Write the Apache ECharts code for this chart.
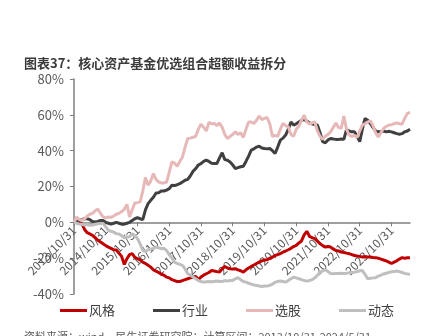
<!DOCTYPE html>
<html><head><meta charset="utf-8">
<script src="https://cdn.jsdelivr.net/npm/echarts@6/dist/echarts.min.js"></script>
<style>html,body{margin:0;padding:0;background:#fff}#c{width:438px;height:336px}</style>
</head><body><div id="c"></div>
<script>
var seriesNames = ['风格', '行业', '选股', '动态'];
var yTicks = [-40, -20, 0, 20, 40, 60, 80];
var style = [0,0.5,-0.3,-0.7,-4,-5.8,-6.5,-7.3,-8.5,-10,-11,-12,-13,-13.8,-14.5,-15.3,-15.5,-17.2,-19,-23.5,-20.3,-18,-17.5,-19.5,-20.3,-21,-22.2,-23,-24,-25,-26.5,-27.2,-28,-29,-29.5,-30.6,-31,-32,-32.5,-33,-33,-32.5,-32,-31.5,-31,-30.5,-30.2,-32,-30.5,-29.5,-28.7,-28,-26.9,-27.2,-27.5,-27.8,-26,-24.6,-25.5,-25.9,-26,-25.9,-26.5,-27,-27.8,-26.5,-25.5,-24.6,-23.8,-23,-22.2,-21.5,-21,-20.9,-20,-19.5,-18.5,-18,-17.5,-16.6,-16,-15.3,-14.5,-13.5,-12.9,-11.5,-10.4,-7,-5,-7.8,-8.5,-9.1,-10.5,-11.9,-13,-13.8,-13.5,-13.8,-15,-15.7,-16,-16.6,-16.8,-17.2,-17.5,-18,-18.5,-18.8,-19,-19.4,-19.2,-19.4,-19.4,-19.6,-19.7,-20,-20.5,-21,-21.5,-22.2,-23,-22.2,-21.5,-20.5,-19.7,-20,-19.8,-19.7];
var industry = [0,0.5,1,1.5,2,2,1.5,0.5,0.2,0.5,1,1,0,-0.5,-1,-0.5,0,-0.5,-1,-1,-0.5,0,1,2,2.6,2,1.5,7,10.4,12.3,14,16.4,16.5,17.5,17.5,18,18.8,20.7,20.5,21,21.6,22.5,23.5,24,26,28.5,30,32,32.8,34,34.7,34,33,32.8,32.8,36,38.8,35,34.7,33.7,32,30,30.5,31,31.3,34,37,40.3,41,42,42.5,41.5,41.2,41,41.2,40,38.4,42,45.9,47,48.7,52,56,54.3,55,56,57,57.4,56.5,55.5,55,54.5,54.3,50,45,44.4,46,46.8,46.5,46.3,46.3,46.5,46.3,51.8,51,50.5,50.5,48,45,52,58,57,55.2,53,51,50.5,50.5,51,50.5,50.8,50.5,50,49.5,49.2,49.5,50.5,51,52];
var stock = [0,3,1.5,1,2,3.5,4.5,5,6.5,7.5,5,3,2.5,3,2.8,3.5,4.5,5,6,7.3,10,3,7,10.8,11,11.4,17.5,25,20.7,23,27.2,24,22.5,22,22,22.5,28,33.7,33,31.3,34,36.5,42,46.8,47,47.5,48,52,54.8,53,51,55.8,55,55.2,54,55.5,53,49,46.8,48,49,50.5,49,50,47.4,52,56,56,55.2,57,59.3,57.4,58,58.5,55,48,48.5,48,52,55.2,54,53.3,49,48,52,53.7,57,59.8,56,54.8,55.5,56,51,48,46.3,48,49,50.5,53,55.5,53,52.4,59.3,52,48.7,48,48.5,47.4,51,54.3,55,56,56.7,54,50,47.7,50,52.4,53.5,54.3,54.5,55,55.5,55,54.8,58,60.8,61.4];
var dynamic = [0,-0.5,-1,-1.1,-1.5,-1.2,-1.7,-1.5,-1.1,-0.8,-0.7,-0.6,-2.5,-4.5,-5,-5.5,-6.3,-6.5,-7.5,-8.6,-8.2,-8,-6.3,-7.5,-9.1,-12,-15.7,-16.2,-15.3,-15,-14.5,-13.8,-14.2,-14.7,-14.5,-15.7,-18,-20,-22.2,-23,-23.5,-24,-26,-28.7,-29.5,-30.5,-31.5,-32.5,-33,-33.4,-33.2,-33,-33.2,-33,-32.8,-33,-33,-32.5,-32.8,-32.4,-32.4,-31.5,-30.9,-32,-33,-33.4,-34,-34.5,-35,-35.2,-35.5,-35.8,-35.5,-35.5,-35.2,-34.5,-33.5,-33,-32.8,-33,-33.4,-32.5,-31.5,-30.6,-31,-31.5,-32,-32.5,-32.8,-32.5,-32,-31,-29.5,-27.8,-27,-26.5,-27.5,-28.5,-28.7,-28.5,-28.5,-28.4,-28.5,-28.4,-28.2,-28,-27.8,-27.5,-27,-26.9,-29,-31.5,-31.2,-31,-30.9,-30,-29.5,-28.8,-28.4,-28,-27.6,-27.5,-27.2,-27.5,-28,-28.5,-28.8,-29];

// month-end category labels from 2013/10/31 to 2024/5/31
var categories = [];
(function(){
  var y = 2013, m = 10;
  while (y < 2024 || (y === 2024 && m <= 5)) {
    var d = new Date(y, m, 0).getDate();
    categories.push(y + '/' + m + '/' + d);
    m++; if (m > 12) { m = 1; y++; }
  }
})();

var colors = ['#c00000', '#404040', '#e6b9b8', '#bfbfbf'];
var font = '"Noto Sans CJK SC", "Noto Sans", sans-serif';
var chart = echarts.init(document.getElementById('c'), null, {renderer: 'canvas'});
var dataSets = [style, industry, stock, dynamic];
var gridTop = 79, gridBottom = 42, H = 336;
var plotH = H - gridTop - gridBottom;
var yMin = -40, yMax = 80;
// move category axis up to the zero line
var zeroOffset = -plotH * (0 - yMin) / (yMax - yMin);
chart.setOption({
  animation: false,
  textStyle: {fontFamily: font},
  title: [{
    text: '图表37：核心资产基金优选组合超额收益拆分',
    left: 19, top: 52,
    textStyle: {fontSize: 13, fontWeight: 'bold', color: '#3b3b3b', fontFamily: font}
  }, {
    text: '资料来源：wind，民生证券研究院；计算区间：2013/10/31-2024/5/31',
    left: 19, top: 326,
    textStyle: {fontSize: 11, fontWeight: 'normal', color: '#595959', fontFamily: font}
  }],
  legend: {
    bottom: 14, left: 55,
    itemWidth: 27, itemHeight: 3, itemGap: 38,
    icon: 'rect',
    textStyle: {fontSize: 13, color: '#404040', padding: [0,0,0,-3]},
    data: seriesNames
  },
  grid: {left: 74, right: 28, top: gridTop, bottom: gridBottom, containLabel: false, outerBoundsMode: 'none'},
  xAxis: {
    type: 'category', data: categories, boundaryGap: false,
    offset: zeroOffset,
    axisLine: {onZero: false, lineStyle: {color: '#7f7f7f', width: 1.5}},
    axisTick: {show: true, interval: 11, alignWithLabel: true, length: 4, lineStyle: {color: '#7f7f7f'}},
    axisLabel: {interval: 11, rotate: 45, fontSize: 12, color: '#595959', margin: 6}
  },
  yAxis: {
    type: 'value', min: yMin, max: yMax, interval: 20,
    splitLine: {show: false},
    axisLine: {show: true, lineStyle: {color: '#7f7f7f', width: 1.5}},
    axisTick: {show: true, length: 4, lineStyle: {color: '#7f7f7f'}},
    axisLabel: {fontSize: 13, color: '#595959', margin: 10, formatter: function(v){ return v + '%'; }}
  },
  series: seriesNames.map(function(n, i){
    return {
      name: n, type: 'line', data: dataSets[i], symbol: 'none', z: 5,
      lineStyle: {width: 3, color: colors[i]}, itemStyle: {color: colors[i]}
    };
  })
});
</script></body></html>
